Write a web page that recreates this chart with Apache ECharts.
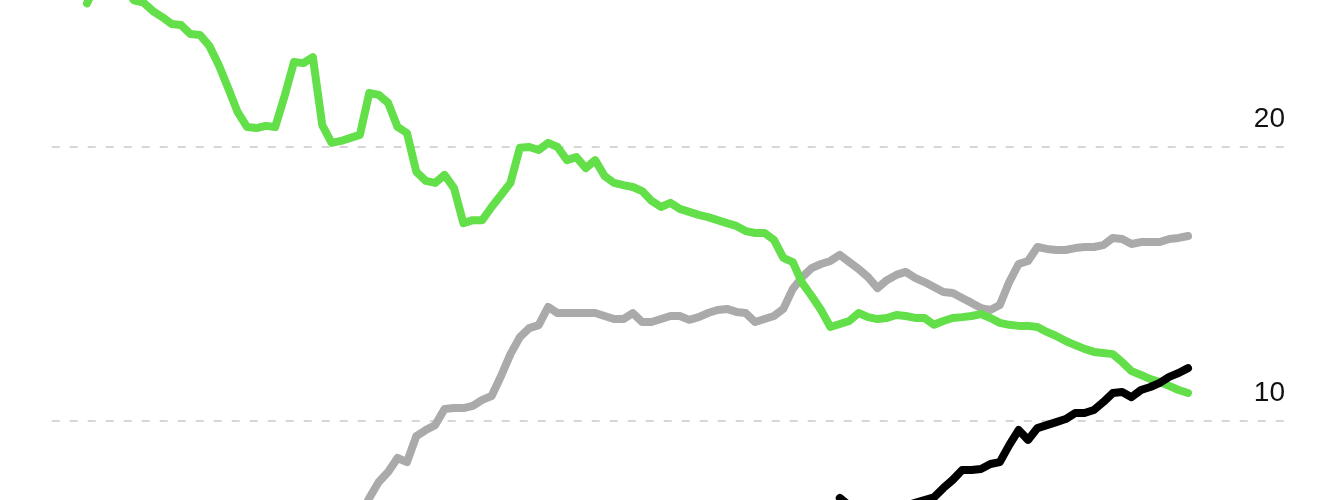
<!DOCTYPE html>
<html>
<head>
<meta charset="utf-8">
<script src="https://cdn.jsdelivr.net/npm/echarts@6/dist/echarts.min.js"></script>
<style>
  html, body { margin: 0; padding: 0; background: #fff; }
  #chart { width: 1328px; height: 500px; }
</style>
</head>
<body>
<div id="chart"></div>
<script>
// ---- data (one value per period; index = period number) ----
const greenStart = 0;
const green = [
  25.23, 26.0, 26.3, 26.1, 25.8, 25.34, 25.26, 24.95, 24.73, 24.48,
  24.44, 24.11, 24.08, 23.68, 22.98, 22.14, 21.27, 20.72, 20.68, 20.76,
  20.72, 21.85, 23.09, 23.05, 23.27, 20.79, 20.14, 20.21, 20.32, 20.43,
  21.96, 21.89, 21.60, 20.72, 20.50, 19.08, 18.75, 18.68, 18.97, 18.49,
  17.21, 17.32, 17.32, 17.80, 18.24, 18.68, 19.96, 19.99, 19.88, 20.14,
  19.99, 19.51, 19.62, 19.22, 19.51, 18.93, 18.68, 18.60, 18.53, 18.38,
  18.02, 17.80, 17.95, 17.73, 17.62, 17.51, 17.43, 17.32, 17.21, 17.11,
  16.92, 16.85, 16.85, 16.60, 15.94, 15.79, 15.03, 14.55, 14.04, 13.42,
  13.53, 13.64, 13.93, 13.78, 13.71, 13.75, 13.86, 13.82, 13.75, 13.75,
  13.50, 13.64, 13.75, 13.78, 13.82, 13.89, 13.75, 13.57, 13.50, 13.46,
  13.46, 13.42, 13.24, 13.09, 12.91, 12.76, 12.62, 12.51, 12.47, 12.43,
  12.14, 11.81, 11.67, 11.52, 11.41, 11.27, 11.12, 11.01
];
const grayStart = 29;
const gray = [
  6.5,
  7.18, 7.76, 8.13, 8.64, 8.49, 9.44, 9.66, 9.84, 10.43, 10.46,
  10.46, 10.54, 10.76, 10.90, 11.63, 12.43, 13.05, 13.38, 13.49, 14.15,
  13.93, 13.93, 13.93, 13.93, 13.93, 13.82, 13.71, 13.71, 13.93, 13.60,
  13.60, 13.71, 13.82, 13.82, 13.68, 13.78, 13.93, 14.04, 14.08, 13.97,
  13.93, 13.60, 13.71, 13.82, 14.08, 14.81, 15.24, 15.57, 15.72, 15.83,
  16.05, 15.79, 15.54, 15.24, 14.84, 15.13, 15.32, 15.43, 15.21, 15.06,
  14.88, 14.70, 14.66, 14.48, 14.30, 14.11, 14.04, 14.22, 15.06, 15.72,
  15.83, 16.34, 16.27, 16.23, 16.23, 16.30, 16.34, 16.34, 16.41, 16.67,
  16.63, 16.45, 16.52, 16.52, 16.52, 16.63, 16.67, 16.74
];
const blackStart = 80;
const black = [
  7.18, 6.9, 6.8, 6.8, 6.8, 6.8, 6.8, 6.9, 7.0, 7.1,
  7.2, 7.54, 7.84, 8.20, 8.20, 8.24, 8.42, 8.49, 9.11, 9.66,
  9.30, 9.73, 9.84, 9.95, 10.06, 10.28, 10.28, 10.39, 10.68, 11.01,
  11.05, 10.86, 11.12, 11.23, 11.38, 11.60, 11.74, 11.92
];
const yTickLabels = [10, 20];

function pairs(start, arr) { return arr.map((v, i) => [start + i, v]); }

const chart = echarts.init(document.getElementById('chart'), null, { renderer: 'canvas' });

function lineSeries(name, start, arr, color, z) {
  return {
    name, type: 'line', data: pairs(start, arr), showSymbol: false, symbol: 'none',
    smooth: false, z, clip: false,
    lineStyle: { color, width: 8, cap: 'round', join: 'round' }
  };
}

chart.setOption({
  animation: false,
  backgroundColor: '#ffffff',
  grid: { left: 51.7, right: 44, top: -127.3, height: 822, containLabel: false, outerBoundsMode: 'none' },
  xAxis: {
    type: 'value', min: -3.75, max: 127.2,
    show: false, splitLine: { show: false }
  },
  yAxis: {
    type: 'value', position: 'right', min: 0, max: 30, interval: 10,
    axisLine: { show: false }, axisTick: { show: false },
    splitLine: { show: true, lineStyle: { color: '#d6d6d6', width: 2, type: [8, 10] } },
    axisLabel: {
      inside: true, margin: -1, color: '#111',
      fontFamily: 'Liberation Sans, Arial, sans-serif', fontSize: 28,
      verticalAlign: 'bottom', lineHeight: 28, padding: [0, 0, 13, 0],
      formatter: v => (yTickLabels.indexOf(v) >= 0 ? String(v) : '')
    }
  },
  series: [
    lineSeries('gray', grayStart, gray, '#aaaaaa', 2),
    lineSeries('green', greenStart, green, '#63df4a', 3),
    lineSeries('black', blackStart, black, '#000000', 4)
  ]
});
</script>
</body>
</html>
